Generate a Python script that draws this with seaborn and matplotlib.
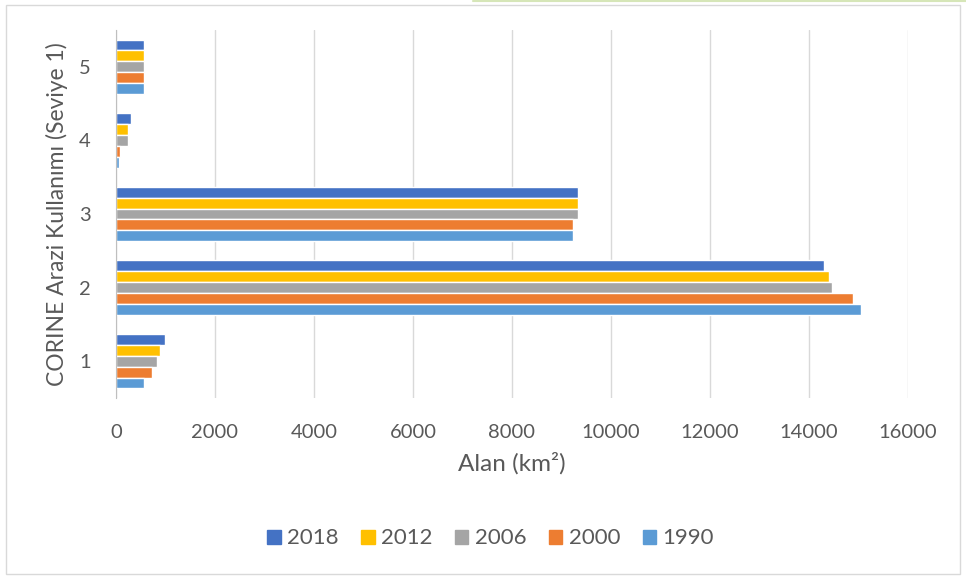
import matplotlib.pyplot as plt
import matplotlib.patches as mpatches
import matplotlib.lines as mlines
import seaborn as sns
import pandas as pd

# values (km2)
levels = ["5", "4", "3", "2", "1"]
years = ["2018", "2012", "2006", "2000", "1990"]
area_2018 = [560, 300, 9340, 14300, 995]
area_2012 = [560, 240, 9340, 14410, 885]
area_2006 = [560, 245, 9340, 14470, 830]
area_2000 = [560, 75, 9235, 14890, 725]
area_1990 = [560, 65, 9235, 15055, 560]
colors = ["#4472C4", "#FFC000", "#A5A5A5", "#ED7D31", "#5B9BD5"]

series = [area_2018, area_2012, area_2006, area_2000, area_1990]
rows = []
for year, vals in zip(years, series):
    for lvl, v in zip(levels, vals):
        rows.append({"level": lvl, "year": year, "area": v})
df = pd.DataFrame(rows)

sns.set_style("white")
plt.rcParams["font.family"] = ["Lato", "DejaVu Sans"]
text_col = "#595959"

fig = plt.figure(figsize=(9.66, 5.79), dpi=100)
ax = fig.add_axes([0.120, 0.3126, 0.820, 0.6356])

sns.barplot(data=df, x="area", y="level", hue="year", order=levels,
            hue_order=years, palette=colors, orient="h", width=0.74,
            saturation=1, ax=ax, legend=False)

ax.set_xlim(0, 16000)
ax.set_xticks(range(0, 16001, 2000))
ax.grid(axis="x", color="#D9D9D9", lw=1)
ax.set_axisbelow(True)
for s in ["top", "right", "bottom"]:
    ax.spines[s].set_visible(False)
ax.spines["left"].set_color("#BFBFBF")
ax.tick_params(axis="both", length=0, labelsize=14.5, colors=text_col)
ax.tick_params(axis="x", pad=19)
ax.tick_params(axis="y", pad=18)
ax.set_xlabel("Alan (km²)", fontsize=17.5, color=text_col, labelpad=8)
ax.set_ylabel("CORINE Arazi Kullanımı (Seviye 1)", fontsize=16.5, color=text_col, labelpad=8)

handles = [mpatches.Patch(color=c, label=y) for c, y in zip(colors, years)]
fig.legend(handles=handles, loc="center", bbox_to_anchor=(0.508, 0.07), ncol=5,
           frameon=False, fontsize=16, labelcolor=text_col, handlelength=0.6,
           handleheight=0.6, handletextpad=0.3, columnspacing=1.0)

# light frame around the chart area
fig.patches.append(mpatches.Rectangle((0.006, 0.008), 0.988, 0.984, transform=fig.transFigure,
                                      fill=False, edgecolor="#D9D9D9", lw=1))
fig.lines.append(mlines.Line2D([0.49, 1.0], [0.998, 0.998], transform=fig.transFigure,
                               color="#D6E6B8", lw=1.5))

fig.savefig("out.png", dpi=100)
